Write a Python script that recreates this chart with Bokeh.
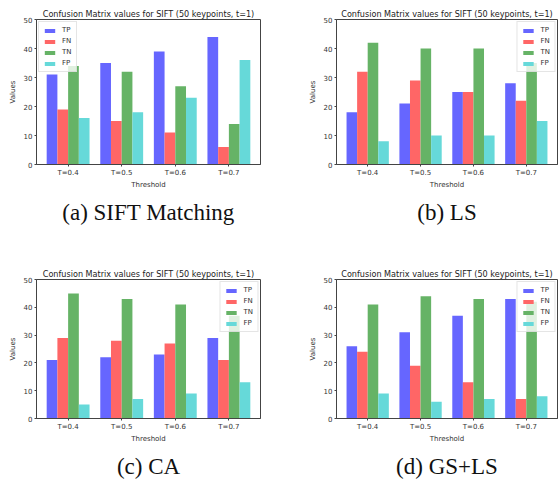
from bokeh.plotting import figure
from bokeh.models import ColumnDataSource, FactorRange, Range1d, FixedTicker, Title
from bokeh.transform import dodge
from bokeh.layouts import column, row
from bokeh.embed import file_html
from bokeh.resources import INLINE

thresholds = ["T=0.4", "T=0.5", "T=0.6", "T=0.7"]
series = ["TP", "FN", "TN", "FP"]
colors = ["#6666ff", "#ff6666", "#66b366", "#66d9d9"]

a_tp = [31, 35, 39, 44]
a_fn = [19, 15, 11, 6]
a_tn = [34, 32, 27, 14]
a_fp = [16, 18, 23, 36]

b_tp = [18, 21, 25, 28]
b_fn = [32, 29, 25, 22]
b_tn = [42, 40, 40, 35]
b_fp = [8, 10, 10, 15]

c_tp = [21, 22, 23, 29]
c_fn = [29, 28, 27, 21]
c_tn = [45, 43, 41, 37]
c_fp = [5, 7, 9, 13]

d_tp = [26, 31, 37, 43]
d_fn = [24, 19, 13, 7]
d_tn = [41, 44, 43, 42]
d_fp = [9, 6, 7, 8]

captions = ["(a) SIFT Matching", "(b) LS", "(c) CA", "(d) GS+LS"]
chart_title = "Confusion Matrix values for SIFT (50 keypoints, t=1)"
y_ticks = [0, 10, 20, 30, 40, 50]

FONT = "DejaVu Sans"


def make(tp, fn, tn, fp, caption, col, rowi, legend_loc):
    width = 279
    if col == 0:
        bl, br = 36, 19
    else:
        bl, br = 57, 1
    if rowi == 0:
        height, bt, bb = 240, 19, 76
    else:
        height, bt, bb = 244, 39, 59
    p = figure(x_range=FactorRange(factors=thresholds, range_padding=0.045),
               y_range=Range1d(0, 50), width=width, height=height,
               output_backend="svg", toolbar_location=None,
               min_border_left=bl, min_border_right=br,
               min_border_top=bt, min_border_bottom=bb)
    p.title.text = chart_title
    p.title.text_font = FONT
    p.title.text_font_size = "8.1px"
    p.title.text_font_style = "normal"
    p.title.text_color = "#222222"
    p.title.align = "center"
    p.title.standoff = 2
    src = ColumnDataSource(dict(x=thresholds, TP=tp, FN=fn, TN=tn, FP=fp))
    offs = [-0.3, -0.1, 0.1, 0.3]
    for s, c, o in zip(series, colors, offs):
        p.vbar(x=dodge("x", o, range=p.x_range), top=s, width=0.2, source=src,
               fill_color=c, line_color=None, legend_label=s)
    p.grid.visible = False
    p.outline_line_color = "#444444"
    p.outline_line_width = 1
    for ax in (p.xaxis[0], p.yaxis[0]):
        ax.axis_line_color = "#444444"
        ax.major_tick_line_color = "#444444"
        ax.major_tick_out = 2
        ax.major_tick_in = 0
        ax.minor_tick_line_color = None
        ax.major_label_text_font = FONT
        ax.major_label_text_font_size = "7px"
        ax.major_label_text_color = "#333333"
        ax.major_label_standoff = 2
        ax.axis_label_text_font = FONT
        ax.axis_label_text_font_size = "7px"
        ax.axis_label_text_font_style = "normal"
        ax.axis_label_text_color = "#333333"
    p.yaxis.ticker = FixedTicker(ticks=y_ticks)
    p.yaxis.axis_label = "Values"
    p.yaxis.axis_label_standoff = 4
    p.xaxis.axis_label = "Threshold"
    p.xaxis.axis_label_standoff = 1
    p.xaxis.major_label_orientation = "horizontal"

    leg = p.legend[0]
    leg.location = legend_loc
    leg.label_text_font = FONT
    leg.label_text_font_size = "7px"
    leg.label_text_color = "#333333"
    leg.glyph_width = 13
    leg.glyph_height = 5
    leg.label_height = 7
    leg.label_width = 8
    leg.label_standoff = 6
    leg.spacing = 3
    leg.padding = 4
    leg.margin = 2
    leg.border_line_color = "#cccccc"
    leg.background_fill_alpha = 0.8

    cap = Title(text=caption, align="center", text_font="Liberation Serif",
                text_font_size="23px", text_font_style="normal",
                text_color="#111111", standoff=12)
    p.add_layout(cap, "below")
    return p


pa = make(a_tp, a_fn, a_tn, a_fp, captions[0], 0, 0, "top_left")
pb = make(b_tp, b_fn, b_tn, b_fp, captions[1], 1, 0, "top_right")
pc = make(c_tp, c_fn, c_tn, c_fp, captions[2], 0, 1, "top_right")
pd = make(d_tp, d_fn, d_tn, d_fp, captions[3], 1, 1, "top_right")

layout = column(row(pa, pb), row(pc, pd))

with open("out.html", "w") as f:
    f.write(file_html(layout, INLINE))
